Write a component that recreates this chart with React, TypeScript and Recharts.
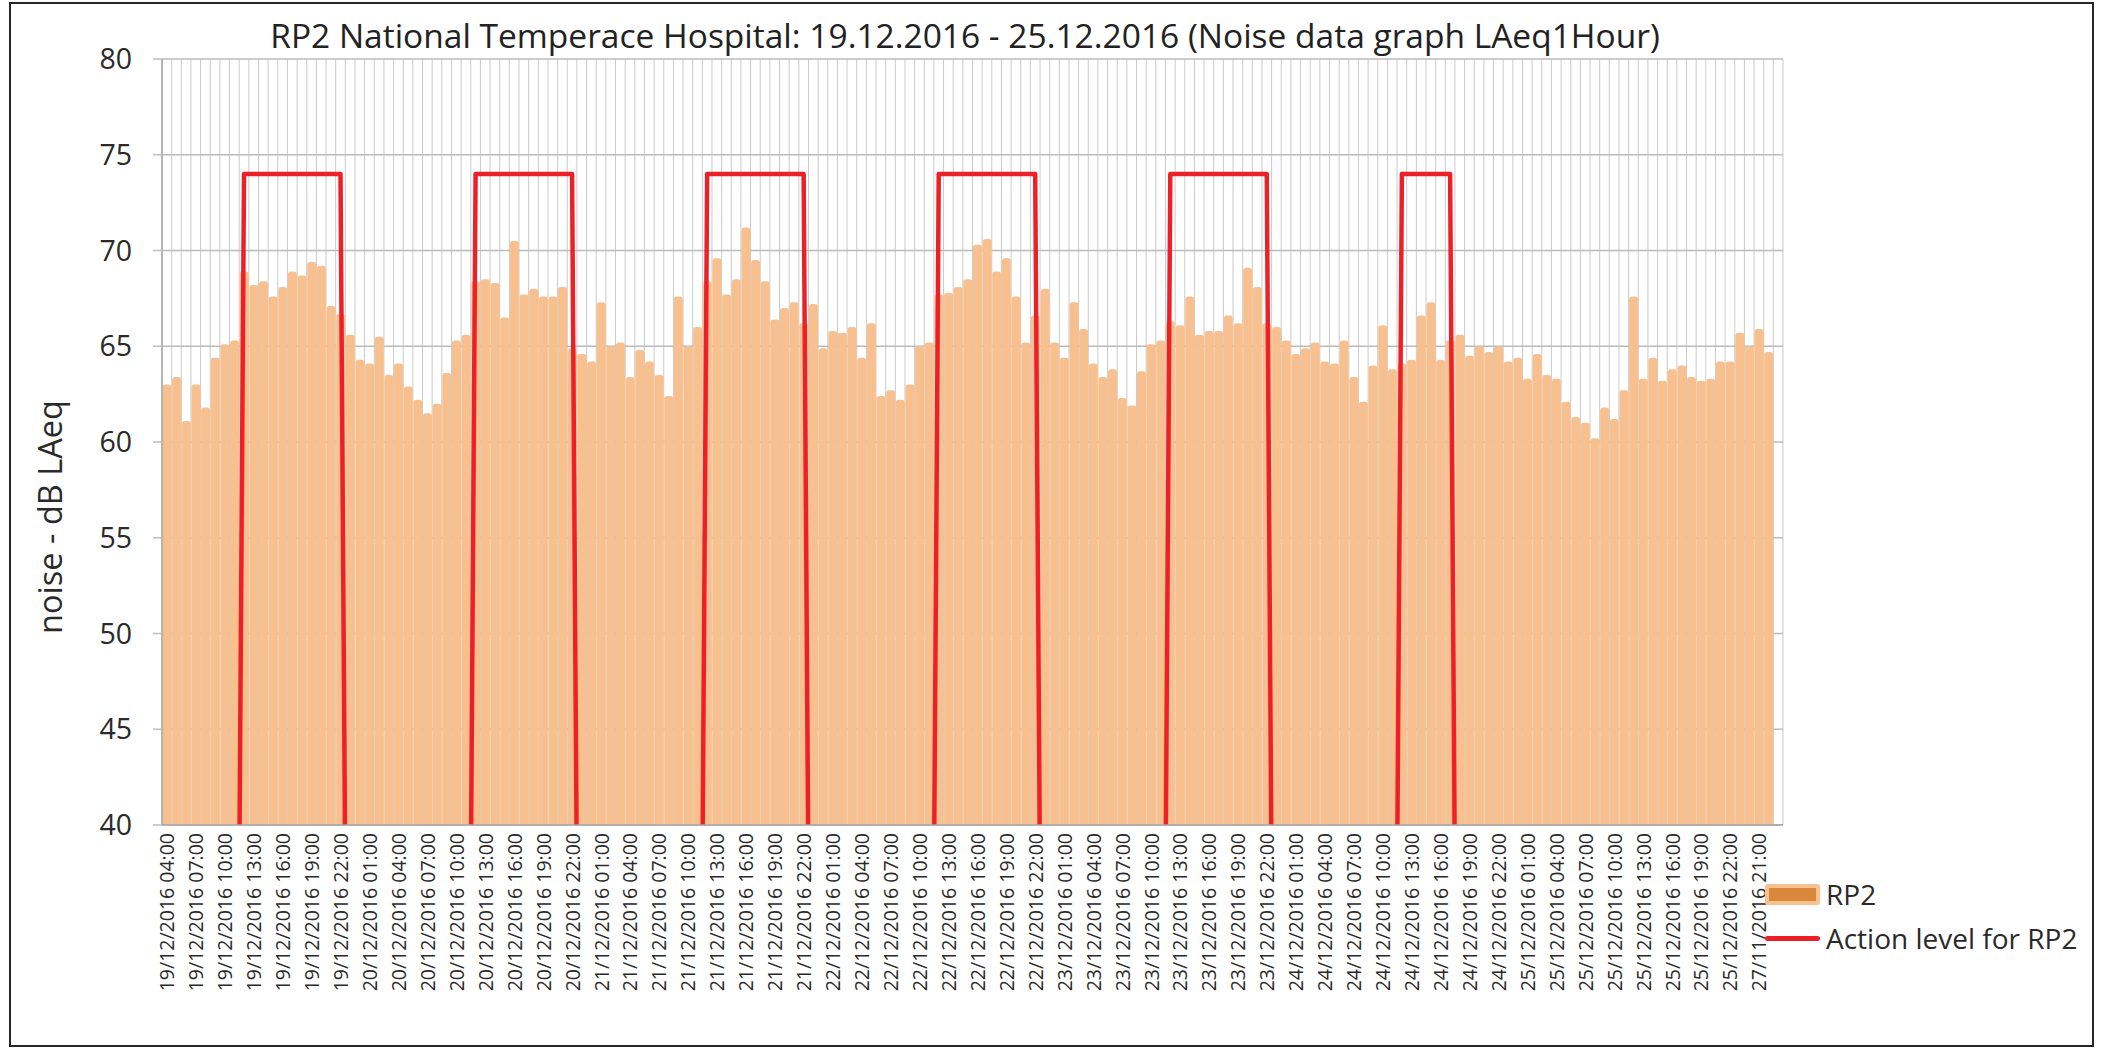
import React from 'react';
import { ComposedChart, Bar, Line, XAxis, YAxis, CartesianGrid, Legend, Label } from 'recharts';

const chartTitle = 'RP2 National Temperace Hospital: 19.12.2016 - 25.12.2016 (Noise data graph LAeq1Hour)';
const yAxisTitle = 'noise - dB LAeq';
const seriesNames = ['RP2', 'Action level for RP2'];
const yTicks = [40, 45, 50, 55, 60, 65, 70, 75, 80];

const tickLabels = [
  '19/12/2016 04:00', '19/12/2016 07:00', '19/12/2016 10:00', '19/12/2016 13:00', '19/12/2016 16:00', '19/12/2016 19:00', '19/12/2016 22:00',
  '20/12/2016 01:00', '20/12/2016 04:00', '20/12/2016 07:00', '20/12/2016 10:00', '20/12/2016 13:00', '20/12/2016 16:00', '20/12/2016 19:00', '20/12/2016 22:00',
  '21/12/2016 01:00', '21/12/2016 04:00', '21/12/2016 07:00', '21/12/2016 10:00', '21/12/2016 13:00', '21/12/2016 16:00', '21/12/2016 19:00', '21/12/2016 22:00',
  '22/12/2016 01:00', '22/12/2016 04:00', '22/12/2016 07:00', '22/12/2016 10:00', '22/12/2016 13:00', '22/12/2016 16:00', '22/12/2016 19:00', '22/12/2016 22:00',
  '23/12/2016 01:00', '23/12/2016 04:00', '23/12/2016 07:00', '23/12/2016 10:00', '23/12/2016 13:00', '23/12/2016 16:00', '23/12/2016 19:00', '23/12/2016 22:00',
  '24/12/2016 01:00', '24/12/2016 04:00', '24/12/2016 07:00', '24/12/2016 10:00', '24/12/2016 13:00', '24/12/2016 16:00', '24/12/2016 19:00', '24/12/2016 22:00',
  '25/12/2016 01:00', '25/12/2016 04:00', '25/12/2016 07:00', '25/12/2016 10:00', '25/12/2016 13:00', '25/12/2016 16:00', '25/12/2016 19:00', '25/12/2016 22:00',
  '27/11/2016 21:00',
];

// hourly LAeq values (one per hour, starting 19/12/2016 04:00)
const rp2Values: (number | null)[] = [
  63.0, 63.4, 61.1, 63.0, 61.8, 64.4, 65.1, 65.3, 68.9, 68.2,
  68.4, 67.6, 68.1, 68.9, 68.7, 69.4, 69.2, 67.1, 66.7, 65.6,
  64.3, 64.1, 65.5, 63.5, 64.1, 62.9, 62.2, 61.5, 62.0, 63.6,
  65.3, 65.6, 68.4, 68.5, 68.3, 66.5, 70.5, 67.7, 68.0, 67.6,
  67.6, 68.1, 64.9, 64.6, 64.2, 67.3, 65.0, 65.2, 63.4, 64.8,
  64.2, 63.5, 62.4, 67.6, 65.0, 66.0, 68.4, 69.6, 67.7, 68.5,
  71.2, 69.5, 68.4, 66.4, 67.0, 67.3, 66.2, 67.2, 64.9, 65.8,
  65.7, 66.0, 64.4, 66.2, 62.4, 62.7, 62.2, 63.0, 65.0, 65.2,
  67.7, 67.8, 68.1, 68.5, 70.3, 70.6, 68.9, 69.6, 67.6, 65.2,
  66.6, 68.0, 65.2, 64.4, 67.3, 65.9, 64.1, 63.4, 63.8, 62.3,
  61.9, 63.7, 65.1, 65.3, 66.3, 66.1, 67.6, 65.6, 65.8, 65.8,
  66.6, 66.2, 69.1, 68.1, 66.2, 66.0, 65.3, 64.6, 64.9, 65.2,
  64.2, 64.1, 65.3, 63.4, 62.1, 64.0, 66.1, 63.8, 64.1, 64.3,
  66.6, 67.3, 64.3, 65.3, 65.6, 64.5, 65.0, 64.7, 65.0, 64.2,
  64.4, 63.3, 64.6, 63.5, 63.3, 62.1, 61.3, 61.0, 60.2, 61.8,
  61.2, 62.7, 67.6, 63.3, 64.4, 63.2, 63.8, 64.0, 63.4, 63.2,
  63.3, 64.2, 64.2, 65.7, 65.0, 65.9, 64.7, null,
];

// action level for each hour (74 dB in the daytime windows, 0 otherwise)
const actionLevel = [
  0, 0, 0, 0, 0, 0, 0, 0, 74, 74, 74, 74, 74, 74, 74, 74, 74, 74, 74, 0, 0, 0, 0, 0,
  0, 0, 0, 0, 0, 0, 0, 0, 74, 74, 74, 74, 74, 74, 74, 74, 74, 74, 74, 0, 0, 0, 0, 0,
  0, 0, 0, 0, 0, 0, 0, 0, 74, 74, 74, 74, 74, 74, 74, 74, 74, 74, 74, 0, 0, 0, 0, 0,
  0, 0, 0, 0, 0, 0, 0, 0, 74, 74, 74, 74, 74, 74, 74, 74, 74, 74, 74, 0, 0, 0, 0, 0,
  0, 0, 0, 0, 0, 0, 0, 0, 74, 74, 74, 74, 74, 74, 74, 74, 74, 74, 74, 0, 0, 0, 0, 0,
  0, 0, 0, 0, 0, 0, 0, 0, 74, 74, 74, 74, 74, 74, 0, 0, 0, 0, 0, 0, 0, 0, 0, 0,
  0, 0, 0, 0, 0, 0, 0, 0, 0, 0, 0, 0, 0, 0, 0, 0, 0, 0, 0, 0, 0, 0, 0, 0,
];

const data = actionLevel.map((a, i) => ({ idx: i, rp2: rp2Values[i], action: a }));

const FONT = '"Open Sans", sans-serif';
const TEXT = '#2a2a2a';
const BAR_FILL = '#F8C08E';
const RED = '#EE2027';

const XTick = (props: any) => {
  const { x, y, payload } = props;
  const label = tickLabels[Math.round(payload.value / 3)];
  if (payload.value % 3 !== 0 || !label) return <g />;
  return (
    <text
      x={0}
      y={0}
      transform={`translate(${x},${y}) rotate(-90)`}
      textAnchor="end"
      dominantBaseline="central"
      fontSize={19.5}
      fontFamily={FONT}
      fill={TEXT}
    >
      {label}
    </text>
  );
};

const YLabel = (props: any) => {
  const vb = props.viewBox || {};
  const cx = vb.x - 33;
  const cy = vb.y + vb.height / 2 + 75;
  return (
    <text
      x={cx}
      y={cy}
      transform={`rotate(-90, ${cx}, ${cy})`}
      textAnchor="middle"
      dominantBaseline="central"
      fontSize={32.5}
      fontFamily={FONT}
      fill={TEXT}
    >
      {yAxisTitle}
    </text>
  );
};

const LegendContent = () => (
  <div style={{ fontFamily: FONT, fontSize: 28, color: TEXT }}>
    <div style={{ display: 'flex', alignItems: 'center', height: 40 }}>
      <div
        style={{
          width: 55,
          height: 21,
          boxSizing: 'border-box',
          background: '#D9873A',
          border: '4px solid #F8C190',
          borderRadius: 3,
          marginRight: 6,
        }}
      />
      <span>{seriesNames[0]}</span>
    </div>
    <div style={{ display: 'flex', alignItems: 'center', height: 40, marginTop: 4 }}>
      <div style={{ width: 55, height: 5, background: RED, borderRadius: 3, marginRight: 6 }} />
      <span>{seriesNames[1]}</span>
    </div>
  </div>
);

export default function App() {
  return (
    <div
      style={{
        position: 'absolute',
        left: 0,
        top: 0,
        width: 2105,
        height: 1054,
        background: '#ffffff',
        fontFamily: FONT,
        overflow: 'hidden',
      }}
    >
      <div
        style={{
          position: 'absolute',
          left: 9,
          top: 2,
          width: 2085,
          height: 1045,
          boxSizing: 'border-box',
          border: '2px solid #262626',
        }}
      />
      <div
        style={{
          position: 'absolute',
          left: 165,
          width: 1600,
          top: 13,
          lineHeight: '44px',
          textAlign: 'center',
          fontSize: 33.5,
          color: '#222222',
          whiteSpace: 'nowrap',
        }}
      >
        {chartTitle}
      </div>
      <div style={{ position: 'absolute', left: 0, top: 0 }}>
        <ComposedChart
          width={2105}
          height={1054}
          data={data}
          margin={{ top: 59, right: 322, bottom: 29, left: 82 }}
          barCategoryGap="5%"
        >
          <CartesianGrid
            horizontal={false}
            stroke="#CACACA"
            strokeWidth={1}
            verticalCoordinatesGenerator={({ offset }: any) =>
              data.concat([data[0]]).map((_, i) => offset.left + (i * offset.width) / data.length)
            }
          />
          <CartesianGrid
            vertical={false}
            stroke="#BBBBBB"
            strokeWidth={1.5}
          />
          <XAxis
            dataKey="idx"
            type="category"
            interval={2}
            height={200}
            tick={<XTick />}
            tickLine={false}
            tickSize={6}
            tickMargin={2}
            axisLine={{ stroke: '#A6A6A6', strokeWidth: 1.5 }}
          />
          <YAxis
            domain={[40, 80]}
            ticks={yTicks}
            allowDataOverflow
            width={80}
            tickSize={9}
            tickMargin={21}
            tick={{ fontSize: 28.5, fill: TEXT, fontFamily: FONT }}
            tickLine={{ stroke: '#BFBFBF', strokeWidth: 1.5 }}
            axisLine={{ stroke: '#A6A6A6', strokeWidth: 1.5 }}
          >
            <Label content={<YLabel />} />
          </YAxis>
          <Bar
            dataKey="rp2"
            name={seriesNames[0]}
            fill={BAR_FILL}
            radius={[3, 3, 0, 0]}
            isAnimationActive={false}
          />
          <Line
            dataKey="action"
            name={seriesNames[1]}
            type="linear"
            stroke={RED}
            strokeWidth={4.5}
            strokeLinejoin="round"
            dot={false}
            activeDot={false}
            isAnimationActive={false}
          />
          <Legend
            layout="vertical"
            align="center"
            verticalAlign="middle"
            wrapperStyle={{ left: 1765, top: 874, width: 340 }}
            content={<LegendContent />}
          />
        </ComposedChart>
      </div>
    </div>
  );
}
